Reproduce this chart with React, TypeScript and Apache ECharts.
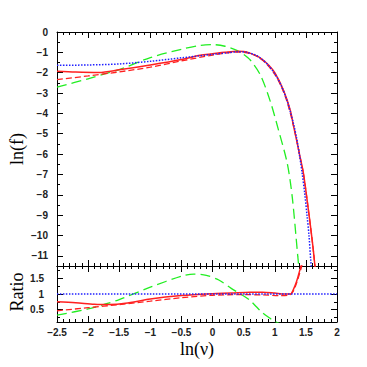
import React, { useEffect, useRef } from "react";
import * as echarts from "echarts";

// ---- tick labels ----
const xTicks = [-2.5, -2, -1.5, -1, -0.5, 0, 0.5, 1, 1.5, 2];
const fMajor = [0, -1, -2, -3, -4, -5, -6, -7, -8, -9, -10, -11];
const fMinor = [-0.5, -1.5, -2.5, -3.5, -4.5, -5.5, -6.5, -7.5, -8.5, -9.5, -10.5, -11.5];
const rMajor = [0.5, 1, 1.5];
const rMinor = [0.25, 0.75, 1.25, 1.75];

// ---- top panel: ln(f) vs ln(nu) ----
const blueTop = [
  [-2.5, -1.64], [-2.0, -1.62], [-1.5, -1.57], [-1.0, -1.44], [-0.5, -1.27], [0, -1.1],
  [0.25, -1.02], [0.4, -0.97], [0.55, -1.0], [0.7, -1.15], [0.8, -1.35], [0.9, -1.65],
  [1.0, -2.05], [1.1, -2.6], [1.2, -3.4], [1.25, -3.92], [1.3, -4.5], [1.35, -5.2],
  [1.4, -6.1], [1.44, -6.94], [1.48, -7.9], [1.52, -9.07], [1.55, -10.0], [1.58, -11.3], [1.62, -12.6],
];
const redSolidTop = [
  [-2.5, -1.93], [-2.2, -1.97], [-1.83, -1.99], [-1.5, -1.86], [-1.0, -1.62], [-0.5, -1.35],
  [-0.2, -1.14], [0, -1.07], [0.2, -1.0], [0.4, -0.95], [0.5, -0.96], [0.6, -1.04],
  [0.77, -1.28], [0.9, -1.62], [1.0, -2.0], [1.14, -2.86], [1.25, -3.85], [1.3, -4.6],
  [1.35, -5.3], [1.4, -6.05], [1.46, -6.94], [1.54, -8.74], [1.6, -10.2], [1.63, -11.03], [1.67, -12.3],
];
const redDashTop = [
  [-2.5, -2.34], [-2.0, -2.16], [-1.5, -1.96], [-1.0, -1.73], [-0.5, -1.42], [0, -1.13],
  [0.2, -1.04], [0.4, -0.99], [0.55, -1.02], [0.7, -1.17], [0.8, -1.38], [0.9, -1.68],
  [1.0, -2.08], [1.1, -2.65], [1.2, -3.45], [1.3, -4.6], [1.35, -5.3], [1.4, -6.05],
  [1.46, -6.94], [1.54, -8.74], [1.6, -10.2], [1.63, -11.03], [1.67, -12.3],
];
const greenTop = [
  [-2.5, -2.71], [-2.0, -2.3], [-1.72, -2.04], [-1.5, -1.85], [-1.0, -1.26], [-0.5, -0.85],
  [-0.2, -0.66], [0, -0.62], [0.2, -0.7], [0.39, -0.9], [0.5, -1.1], [0.61, -1.39],
  [0.77, -2.12], [0.93, -3.43], [1.06, -4.82], [1.2, -6.45], [1.28, -8.09], [1.37, -11.03], [1.41, -12.3],
];

// ---- bottom panel: ratio ----
const blueRatio = [[-2.5, 1], [2, 1]];
const redSolidRatio = [
  [-2.5, 0.75], [-2.2, 0.72], [-1.9, 0.67], [-1.65, 0.66], [-1.4, 0.7], [-1.0, 0.84],
  [-0.5, 0.95], [0, 1.01], [0.3, 1.03], [0.6, 1.06], [0.8, 1.06], [1.0, 1.03],
  [1.15, 1.0], [1.25, 1.0], [1.3, 1.15], [1.35, 1.4], [1.4, 1.75], [1.45, 2.1],
];
const redDashRatio = [
  [-2.5, 0.46], [-2.0, 0.56], [-1.5, 0.66], [-1.0, 0.77], [-0.5, 0.88], [0, 0.96],
  [0.5, 0.98], [0.8, 0.97], [1.1, 0.95], [1.25, 0.98], [1.3, 1.1], [1.35, 1.35],
  [1.42, 1.8], [1.46, 2.1],
];
const greenRatio = [
  [-2.5, 0.32], [-2.0, 0.52], [-1.72, 0.68], [-1.5, 0.82], [-1.0, 1.22], [-0.5, 1.57],
  [-0.3, 1.64], [-0.1, 1.6], [0.1, 1.45], [0.3, 1.18], [0.45, 1.0], [0.6, 0.8],
  [0.7, 0.6], [0.8, 0.4], [0.9, 0.25], [1.0, 0.12], [1.1, 0.03],
];

const fmt = (v: number) => (v < 0 ? "\u2212" + String(-v) : String(v));
const labelFont = { fontFamily: "Liberation Sans", fontSize: 10, fontWeight: "bold", color: "#222" };

export default function App() {
  const ref = useRef<HTMLDivElement>(null);
  useEffect(() => {
    if (!ref.current) return;
    const chart = echarts.init(ref.current, null, { renderer: "svg" });
    const xAxis = (gridIndex: number, position: string, showLabel: boolean) => ({
      type: "value", gridIndex, position, min: -2.5, max: 2, interval: 0.5,
      axisLine: { show: true, onZero: false, lineStyle: { color: "#000", width: 1 } },
      axisTick: { show: true, inside: true, length: 6, lineStyle: { color: "#000" } },
      minorTick: { show: true, splitNumber: 5, length: 3, lineStyle: { color: "#000" } },
      splitLine: { show: false },
      axisLabel: { show: showLabel, margin: 5, formatter: fmt, ...labelFont },
    });
    const yAxis = (gridIndex: number, position: string, min: number, max: number,
      ticks: number[], major: boolean, showLabel: boolean, margin: number) => ({
      type: "value", gridIndex, position, min, max,
      axisLine: { show: major, onZero: false, lineStyle: { color: "#000", width: 1 } },
      axisTick: { show: true, inside: true, length: major ? 6 : 3, customValues: ticks, lineStyle: { color: "#000" } },
      splitLine: { show: false },
      axisLabel: { show: showLabel, customValues: ticks, margin, formatter: fmt, ...labelFont },
    });
    const ser = (data: number[][], x: number, y: number, color: string, type: any, width: number) => ({
      type: "line", data, xAxisIndex: x, yAxisIndex: y, showSymbol: false, symbol: "none",
      smooth: 0.3, clip: true,
      lineStyle: { color, type, width },
    });
    chart.setOption({
      animation: false,
      backgroundColor: "#fff",
      grid: [
        { left: 57, top: 32, width: 280, height: 234 },
        { left: 57, top: 266, width: 280, height: 56 },
      ],
      xAxis: [
        xAxis(0, "bottom", false),
        xAxis(0, "top", false),
        xAxis(1, "bottom", true),
        xAxis(1, "top", false),
      ],
      yAxis: [
        yAxis(0, "left", -11.5, 0, fMajor, true, true, 9),
        yAxis(0, "left", -11.5, 0, fMinor, false, false, 9),
        yAxis(0, "right", -11.5, 0, fMajor, true, false, 9),
        yAxis(0, "right", -11.5, 0, fMinor, false, false, 9),
        yAxis(1, "left", 0.1, 1.9, rMajor, true, true, 13),
        yAxis(1, "left", 0.1, 1.9, rMinor, false, false, 13),
        yAxis(1, "right", 0.1, 1.9, rMajor, true, false, 13),
        yAxis(1, "right", 0.1, 1.9, rMinor, false, false, 13),
      ],
      series: [
        ser(greenTop, 0, 0, "#22ee22", [10, 5], 1.3),
        ser(redDashTop, 0, 0, "#ff2020", [6, 3], 1.3),
        ser(redSolidTop, 0, 0, "#ff2020", "solid", 1.5),
        ser(blueTop, 0, 0, "#2020ff", [1.5, 1.5], 1.5),
        ser(greenRatio, 2, 4, "#22ee22", [10, 5], 1.3),
        ser(redDashRatio, 2, 4, "#ff2020", [6, 3], 1.3),
        ser(redSolidRatio, 2, 4, "#ff2020", "solid", 1.5),
        ser(blueRatio, 2, 4, "#2020ff", [1.5, 1.5], 1.5),
      ],
      graphic: [
        { type: "text", x: 17, y: 149, rotation: Math.PI / 2,
          style: { text: "ln(f)", fontFamily: "Liberation Serif", fontSize: 18, fill: "#000", align: "center", verticalAlign: "middle" } },
        { type: "text", x: 17, y: 292, rotation: Math.PI / 2,
          style: { text: "Ratio", fontFamily: "Liberation Serif", fontSize: 18, fill: "#000", align: "center", verticalAlign: "middle" } },
        { type: "text", x: 197, y: 349,
          style: { text: "ln(\u03BD)", fontFamily: "Liberation Serif", fontSize: 18, fill: "#000", align: "center", verticalAlign: "middle" } },
      ],
    });
    return () => chart.dispose();
  }, []);
  return <div ref={ref} style={{ position: "fixed", left: 0, top: 0, width: 367, height: 367 }} />;
}
